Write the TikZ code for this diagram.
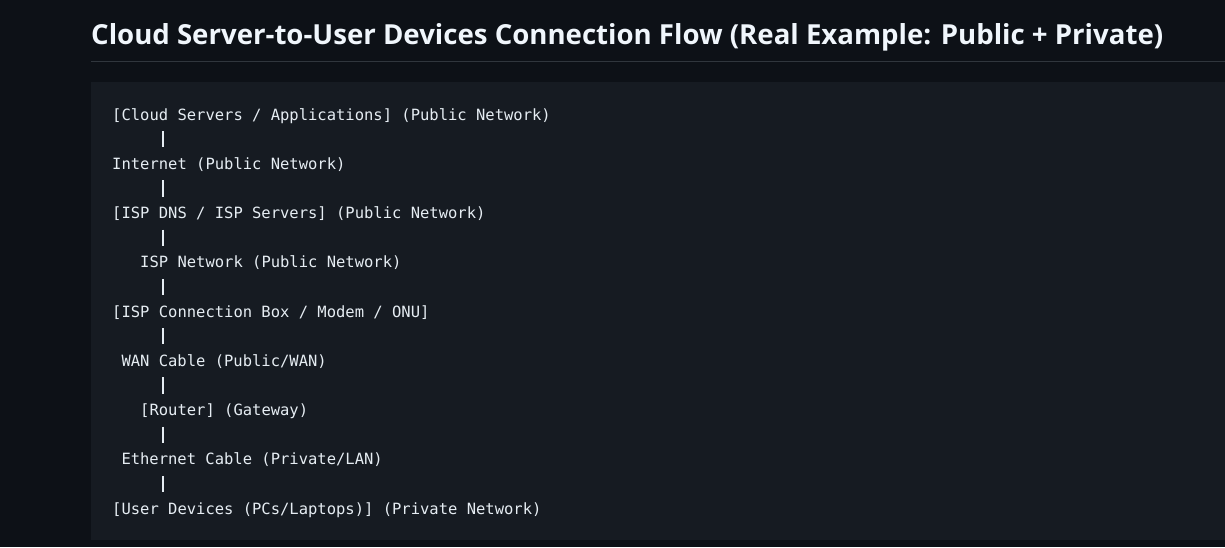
\documentclass[tikz,border=0pt]{standalone}
\usepackage{fontspec}
\setmainfont{Open Sans}
\setmonofont{DejaVu Sans Mono}
\usetikzlibrary{positioning}
\usepackage{xcolor}
\definecolor{pagebg}{HTML}{0D1117}
\definecolor{codebg}{HTML}{161B22}
\definecolor{rulegray}{HTML}{30363D}
\definecolor{codetext}{HTML}{E6EDF3}
\definecolor{titletext}{HTML}{F0F6FC}

\begin{document}
\begin{tikzpicture}[x=1pt, y=-1pt,
    flowline/.style={anchor=base west, inner sep=0pt, text=codetext, font=\fontsize{15.5}{18}\selectfont\ttfamily},
    pipe/.style={draw=codetext, line width=1.1pt},
]
% page, heading and code block
\fill[pagebg] (0,0) rectangle (1225,547);
\useasboundingbox (0,0) rectangle (1225,547);
\node[anchor=base west, inner sep=0pt, text=titletext, font=\fontsize{27.6}{31}\selectfont\bfseries] (title) at (91,44) {Cloud Server-to-User Devices Connection Flow (Real Example: Public + Private)};
\draw[rulegray, line width=1pt] (91,61.5) -- (1225,61.5);
\fill[codebg] (91,82) rectangle (1225,540);

% flow lines
\coordinate (px) at (163,0);
\node[flowline] (cloud) at (112,120) {[Cloud Servers / Applications] (Public Network)};
\node[flowline] (inet) at (112,169.3) {Internet (Public Network)};
\node[flowline] (ispdns) at (112,218.5) {[ISP DNS / ISP Servers] (Public Network)};
\node[flowline] (ispnet) at (140,267.8) {ISP Network (Public Network)};
\node[flowline] (modem) at (112,317) {[ISP Connection Box / Modem / ONU]};
\node[flowline] (wan) at (121.3,366.3) {WAN Cable (Public/WAN)};
\node[flowline] (router) at (140,415.5) {[Router] (Gateway)};
\node[flowline] (lan) at (121.3,464.8) {Ethernet Cable (Private/LAN)};
\node[flowline] (users) at (112,514) {[User Devices (PCs/Laptops)] (Private Network)};

\draw[pipe] ([yshift=-11pt]cloud.base -| px) -- ([yshift=22pt]inet.base -| px);
\draw[pipe] ([yshift=-11pt]inet.base -| px) -- ([yshift=22pt]ispdns.base -| px);
\draw[pipe] ([yshift=-11pt]ispdns.base -| px) -- ([yshift=22pt]ispnet.base -| px);
\draw[pipe] ([yshift=-11pt]ispnet.base -| px) -- ([yshift=22pt]modem.base -| px);
\draw[pipe] ([yshift=-11pt]modem.base -| px) -- ([yshift=22pt]wan.base -| px);
\draw[pipe] ([yshift=-11pt]wan.base -| px) -- ([yshift=22pt]router.base -| px);
\draw[pipe] ([yshift=-11pt]router.base -| px) -- ([yshift=22pt]lan.base -| px);
\draw[pipe] ([yshift=-11pt]lan.base -| px) -- ([yshift=22pt]users.base -| px);
\end{tikzpicture}
\end{document}
